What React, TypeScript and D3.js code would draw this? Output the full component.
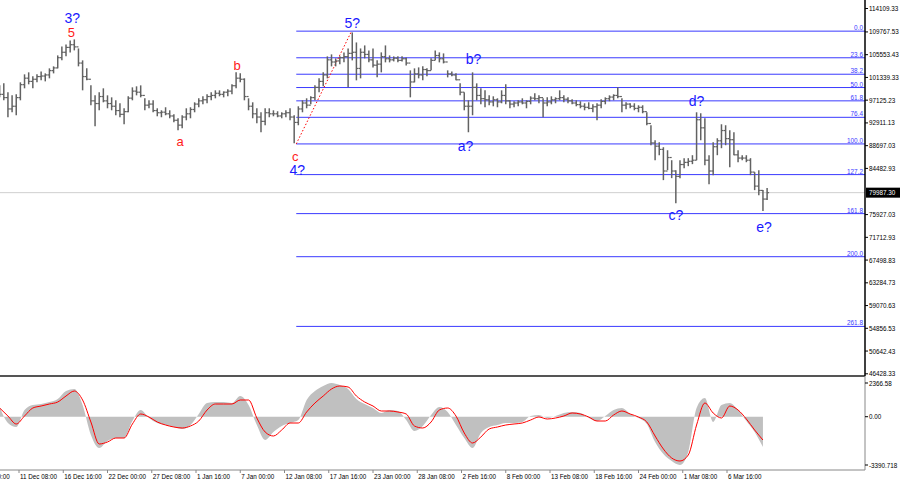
import React from "react";
import * as d3 from "d3";

const W = 900;
const H = 485;

// 12-hour bars starting 9 Dec 2024 00:00 (UTC)
const barStart = Date.UTC(2024, 11, 9, 0);
const barHours = 12;
const firstOpenK = 98.6;
const barHighK = [
  99.87, 100.24, 98.58, 98.02, 98.21, 100.43, 101.91, 102.28, 101.54, 101.91,
  102.46, 102.09, 103.02, 103.39, 105.42, 107.08, 107.45, 108.19, 108.38, 106.71,
  104.5, 103.02, 99.87, 98.02, 98.58, 99.32, 98.02, 97.65, 97.1, 96.55,
  95.62, 97.84, 99.5, 99.69, 99.87, 97.47, 97.1, 97.1, 95.62, 95.25,
  95.81, 95.25, 94.51, 93.77, 94.33, 95.62, 95.81, 96.73, 97.47, 97.84,
  98.21, 98.58, 98.95, 98.95, 98.76, 99.13, 100.06, 102.28, 102.09, 101.17,
  97.47, 96.73, 95.62, 94.88, 95.62, 95.62, 95.25, 95.07, 94.88, 95.25,
  95.62, 94.33, 95.99, 97.1, 97.47, 97.84, 99.87, 101.17, 102.28, 105.24,
  105.61, 104.87, 105.24, 105.98, 106.71, 109.67, 107.82, 106.71, 107.27, 106.35,
  106.71, 104.5, 105.98, 107.27, 105.42, 105.24, 105.24, 105.24, 105.05, 102.65,
  103.02, 103.2, 103.39, 103.02, 104.87, 106.35, 105.98, 105.79, 102.65, 102.46,
  102.09, 100.24, 98.58, 97.1, 102.28, 100.24, 99.32, 98.95, 98.02, 97.84,
  97.47, 98.95, 100.06, 97.1, 96.92, 97.1, 97.47, 97.1, 97.84, 98.39,
  98.02, 97.47, 97.65, 97.84, 97.65, 98.95, 98.02, 97.65, 97.29, 97.1,
  96.92, 96.55, 96.73, 96.36, 96.55, 97.29, 97.65, 98.02, 98.21, 99.5,
  97.47, 96.73, 96.55, 96.55, 96.18, 96.18, 94.88, 92.48, 89.7, 89.33,
  88.41, 87.85, 86.0, 84.16, 86.0, 86.38, 86.38, 86.93, 94.88, 94.7,
  93.77, 86.93, 89.33, 90.07, 92.66, 92.48, 91.55, 91.18, 87.85, 86.93,
  86.93, 86.38, 83.79, 84.16, 80.46, 80.83,
];
const barLowK = [
  97.65, 97.1, 93.96, 94.88, 94.33, 97.1, 99.32, 100.06, 99.32, 100.43,
  100.8, 100.61, 101.17, 102.09, 103.02, 104.5, 105.24, 105.98, 106.35, 103.39,
  98.95, 100.8, 96.18, 92.29, 95.25, 96.73, 95.62, 95.25, 94.33, 93.96,
  92.66, 94.88, 97.1, 98.02, 97.65, 95.25, 95.62, 94.88, 94.14, 93.96,
  94.33, 93.77, 93.03, 91.55, 91.92, 93.4, 93.77, 94.88, 95.81, 96.36,
  96.55, 97.1, 97.47, 97.84, 97.65, 97.84, 98.21, 99.32, 100.43, 97.1,
  95.25, 93.77, 92.85, 91.18, 92.48, 93.96, 94.14, 93.96, 93.77, 93.96,
  93.4, 89.15, 92.48, 94.88, 95.62, 96.36, 97.1, 98.58, 99.69, 101.17,
  103.39, 103.39, 103.76, 104.13, 99.5, 104.5, 100.8, 101.17, 104.87, 104.13,
  103.2, 101.35, 102.28, 104.13, 104.13, 104.31, 104.13, 104.31, 103.57, 97.65,
  100.43, 101.17, 100.8, 101.54, 102.65, 104.5, 104.13, 103.94, 101.35, 101.54,
  100.8, 98.02, 95.25, 91.18, 94.33, 97.1, 96.36, 95.81, 96.18, 95.99,
  95.81, 96.55, 96.36, 95.62, 95.81, 95.99, 96.36, 95.62, 96.36, 97.1,
  96.55, 93.96, 95.99, 96.36, 96.55, 97.1, 96.73, 96.55, 96.36, 95.99,
  95.62, 95.25, 95.44, 94.88, 93.4, 95.62, 96.36, 96.92, 97.1, 97.47,
  94.88, 95.44, 95.62, 95.25, 94.88, 94.7, 92.48, 88.78, 86.0, 86.93,
  82.31, 84.16, 82.68, 78.05, 82.68, 84.53, 84.9, 85.27, 86.0, 89.7,
  85.08, 81.57, 83.23, 86.93, 88.23, 88.78, 84.71, 86.93, 85.63, 86.0,
  85.63, 83.23, 80.46, 79.53, 76.58, 78.61,
];
const barCloseK = [
  98.2, 97.6, 95.5, 96.0, 97.6, 100.0, 101.2, 100.6, 101.0, 101.5,
  101.6, 101.8, 102.6, 103.1, 105.0, 106.0, 106.9, 107.4, 107.0, 104.0,
  101.5, 101.0, 97.0, 96.5, 97.8, 97.0, 96.5, 96.0, 95.2, 94.5,
  95.0, 97.5, 98.8, 98.6, 98.0, 96.2, 96.4, 95.2, 94.8, 94.9,
  94.6, 94.2, 93.4, 92.5, 94.0, 94.6, 95.4, 96.4, 97.0, 97.2,
  97.8, 98.0, 98.4, 98.2, 98.6, 98.8, 99.8, 101.2, 101.0, 97.8,
  96.0, 94.6, 94.0, 93.2, 94.8, 94.6, 94.6, 94.2, 94.6, 94.8,
  94.0, 93.0, 95.5, 96.6, 96.2, 97.6, 99.5, 100.6, 101.8, 104.6,
  104.2, 104.4, 105.0, 105.2, 105.8, 106.0, 103.0, 106.0, 105.6, 104.6,
  103.6, 103.8, 105.2, 104.8, 104.6, 104.9, 104.5, 104.8, 104.0, 100.5,
  102.0, 101.8, 102.8, 102.6, 104.5, 105.4, 104.8, 104.2, 102.0, 101.8,
  100.9, 98.6, 96.0, 96.0, 99.5, 98.0, 97.4, 97.2, 96.8, 97.2,
  96.8, 98.0, 97.0, 96.4, 96.6, 96.8, 96.6, 96.9, 97.5, 97.4,
  97.6, 96.6, 96.8, 97.2, 97.4, 97.6, 97.3, 97.0, 96.6, 96.3,
  96.0, 95.8, 95.6, 95.9, 96.2, 96.9, 97.4, 97.7, 98.0, 97.8,
  96.2, 96.4, 96.0, 95.6, 95.8, 95.0, 92.8, 89.2, 88.6, 88.0,
  84.0, 86.5, 84.0, 83.0, 85.2, 85.6, 85.8, 86.0, 93.5, 92.0,
  86.0, 84.0, 88.5, 89.6, 91.5, 90.0, 89.8, 87.0, 86.4, 86.4,
  86.0, 83.8, 81.2, 80.4, 78.8, 79.99,
];

// MACD sampled every second bar
const macdHist = [
  681, -442, -723, 470, 821, 892, 1032, 1243, 1804, 1945,
  821, -1285, -2197, -1706, -1495, -1495, -302, 470, -91, -442,
  -583, -723, -863, -583, 190, 962, 1032, 1032, 962, 1453,
  821, -583, -1636, -1074, -653, -442, -232, 1172, 1804, 2155,
  2366, 2225, 1945, 1243, 892, 611, 260, 470, 400, -232,
  -1004, -653, 119, 681, 330, -583, -1495, -2197, -1144, -723,
  -583, -442, -442, -372, 49, 119, -91, 49, 260, 330,
  260, -91, -302, 49, 470, 611, 190, -91, -512, -1776,
  -2618, -3110, -3390, -2478, 611, 1313, -372, 821, 962, 470,
  -302, -1074, -2127,
];
const macdSignal = [
  611, 49, -512, 49, 611, 751, 892, 1032, 1453, 1804,
  1172, -372, -1916, -1776, -1495, -1495, -512, 190, -21, -372,
  -583, -723, -793, -653, -302, 470, 892, 892, 892, 1172,
  1172, -91, -1074, -1355, -934, -442, -442, 330, 962, 1453,
  1945, 2155, 2085, 1453, 1032, 751, 400, 400, 330, 190,
  -653, -793, -372, 470, 611, 49, -1144, -1846, -1425, -863,
  -723, -583, -512, -442, -232, -21, -161, -91, 49, 260,
  190, -21, -302, -302, 119, 400, 190, -21, -372, -1355,
  -2267, -2899, -3110, -2689, -583, 962, 260, -91, 751, 470,
  -161, -934, -1636,
];

const priceTicks = [
  114109.33, 109767.53, 105553.43, 101339.33, 97125.23, 92911.13, 88697.03, 84482.93,
  75927.03, 71712.93, 67498.83, 63284.73, 59070.63, 54856.53, 50642.43, 46428.33,
];
const macdTicks = [2366.58, 0, -3390.718];
const macdTickLabels = ["2366.58", "0.00", "-3390.718"];

const dateTicks = [
  Date.UTC(2024, 11, 6, 0), Date.UTC(2024, 11, 11, 8), Date.UTC(2024, 11, 16, 16),
  Date.UTC(2024, 11, 22, 0), Date.UTC(2024, 11, 27, 8), Date.UTC(2025, 0, 1, 16),
  Date.UTC(2025, 0, 7, 0), Date.UTC(2025, 0, 12, 8), Date.UTC(2025, 0, 17, 16),
  Date.UTC(2025, 0, 23, 0), Date.UTC(2025, 0, 28, 8), Date.UTC(2025, 1, 2, 16),
  Date.UTC(2025, 1, 8, 0), Date.UTC(2025, 1, 13, 8), Date.UTC(2025, 1, 18, 16),
  Date.UTC(2025, 1, 24, 0), Date.UTC(2025, 2, 1, 8), Date.UTC(2025, 2, 6, 16),
];
const dateTickLabels = [
  "6 Dec 00:00", "11 Dec 08:00", "16 Dec 16:00", "22 Dec 00:00", "27 Dec 08:00",
  "1 Jan 16:00", "7 Jan 00:00", "12 Jan 08:00", "17 Jan 16:00", "23 Jan 00:00",
  "28 Jan 08:00", "2 Feb 16:00", "8 Feb 00:00", "13 Feb 08:00", "18 Feb 16:00",
  "24 Feb 00:00", "1 Mar 08:00", "6 Mar 16:00",
];

const fibLevels = [0, 23.6, 38.2, 50.0, 61.8, 76.4, 100.0, 127.2, 161.8, 200.0, 261.8];
const fibHigh = 109912;
const fibLow = 89018;
const fibStart = Date.UTC(2025, 0, 13, 18);
const fibPeak = Date.UTC(2025, 0, 20, 10);
const lastPrice = 79987.3;

const BLUE = "#1a1aff";
const RED = "#ff1a1a";
const waveLabels = [
  { text: "3?", bar: 18, at: "high", dx: -2, dy: -21, color: BLUE, size: 14 },
  { text: "5", bar: 18, at: "high", dx: -3, dy: -7, color: RED, size: 13 },
  { text: "a", bar: 43, at: "low", dx: 2, dy: 11, color: RED, size: 13 },
  { text: "b", bar: 57, at: "high", dx: 1, dy: -7, color: RED, size: 13 },
  { text: "c", bar: 71, at: "low", dx: 1, dy: 13, color: RED, size: 13 },
  { text: "4?", bar: 71, at: "low", dx: 3, dy: 27, color: BLUE, size: 14 },
  { text: "5?", bar: 85, at: "high", dx: 0, dy: -9, color: BLUE, size: 14 },
  { text: "a?", bar: 113, at: "low", dx: -3, dy: 14, color: BLUE, size: 14 },
  { text: "b?", bar: 114, at: "high", dx: 1, dy: -13, color: BLUE, size: 14 },
  { text: "c?", bar: 163, at: "low", dx: 0, dy: 12, color: BLUE, size: 14 },
  { text: "d?", bar: 168, at: "high", dx: 0, dy: -11, color: BLUE, size: 14 },
  { text: "e?", bar: 184, at: "low", dx: 1, dy: 16, color: BLUE, size: 14 },
];

const FONT = "'Liberation Sans', Arial, sans-serif";
const AXIS_X = 865;

export default function App() {
  const x = d3
    .scaleUtc()
    .domain([new Date(Date.UTC(2024, 11, 11, 8)), new Date(Date.UTC(2025, 2, 6, 16))])
    .range([19, 727]);
  const y = d3.scaleLinear().domain([46428.33, 114109.33]).range([373.8, 8.5]);
  const my = d3.scaleLinear().domain([-3390.718, 2366.58]).range([465, 383]);

  const barDate = (i: number) => new Date(barStart + i * barHours * 3600e3);
  const bars = barHighK.map((h, i) => ({
    x: x(barDate(i)),
    hi: h * 1000,
    lo: barLowK[i] * 1000,
    open: (i === 0 ? firstOpenK : barCloseK[i - 1]) * 1000,
    close: barCloseK[i] * 1000,
  }));

  const macdPts = macdHist.map((v, k) => ({ x: x(barDate(k * 2)), h: v, s: macdSignal[k] }));
  const histArea = d3
    .area<{ x: number; h: number }>()
    .x((d) => d.x)
    .y0(my(0))
    .y1((d) => my(d.h))
    .curve(d3.curveMonotoneX);
  const sigLine = d3
    .line<{ x: number; s: number }>()
    .x((d) => d.x)
    .y((d) => my(d.s))
    .curve(d3.curveMonotoneX);

  const fibX = x(new Date(fibStart));
  const fibPrice = (lv: number) => fibHigh - (lv / 100) * (fibHigh - fibLow);
  const BAR = "#626262";

  return (
    <svg
      width={W}
      height={H}
      style={{ position: "absolute", left: 0, top: 0, background: "#fff" }}
      fontFamily={FONT}
    >
      <rect x={0} y={0} width={W} height={H} fill="#fff" />
      {/* current price line */}
      <line x1={0} x2={AXIS_X} y1={y(lastPrice)} y2={y(lastPrice)} stroke="#cfcfcf" strokeWidth={1} />

      {/* fibonacci levels */}
      {fibLevels.map((lv) => {
        const yy = y(fibPrice(lv));
        return (
          <g key={lv}>
            <line x1={fibX} x2={AXIS_X} y1={yy} y2={yy} stroke="#3a3aff" strokeWidth={1} />
            <text x={AXIS_X - 2} y={yy - 1} fontSize={6.4} fill="#3a3aff" textAnchor="end">
              {lv.toFixed(1)}
            </text>
          </g>
        );
      })}

      {/* red dotted trend line */}
      <line
        x1={fibX}
        y1={y(fibLow)}
        x2={x(new Date(fibPeak))}
        y2={y(fibHigh)}
        stroke="#ff0000"
        strokeWidth={1}
        strokeDasharray="1.5,2"
      />

      {/* price bars (OHLC) */}
      {bars.map((b, i) => (
        <g key={i} stroke={BAR}>
          <line x1={b.x} x2={b.x} y1={y(b.hi)} y2={y(b.lo)} strokeWidth={1.5} />
          <line x1={b.x - 2} x2={b.x} y1={y(b.open)} y2={y(b.open)} strokeWidth={1.2} />
          <line x1={b.x} x2={b.x + 2} y1={y(b.close)} y2={y(b.close)} strokeWidth={1.2} />
        </g>
      ))}

      {/* wave labels */}
      {waveLabels.map((l, i) => {
        const b = bars[l.bar];
        const base = l.at === "high" ? y(b.hi) : y(b.lo);
        return (
          <text
            key={i}
            x={b.x + l.dx}
            y={base + l.dy}
            fill={l.color}
            fontSize={l.size}
            textAnchor="middle"
            dominantBaseline="central"
          >
            {l.text}
          </text>
        );
      })}

      {/* panel separator */}
      <line x1={0} x2={AXIS_X} y1={376} y2={376} stroke="#555" strokeWidth={2} />

      {/* MACD */}
      <path d={histArea(macdPts) || ""} fill="#c0c0c0" />
      <path d={sigLine(macdPts) || ""} fill="none" stroke="#ff0000" strokeWidth={1} />

      {/* bottom axis */}
      <line x1={0} x2={AXIS_X} y1={470} y2={470} stroke="#888" strokeWidth={1} />
      {dateTicks.map((d, i) => {
        const xx = x(new Date(d));
        return (
          <g key={i}>
            <line x1={xx} x2={xx} y1={470} y2={473} stroke="#888" />
            <text x={xx + 1} y={479} fontSize={6.3} fill="#000">
              {dateTickLabels[i]}
            </text>
          </g>
        );
      })}

      {/* right axis */}
      <line x1={AXIS_X} x2={AXIS_X} y1={0} y2={376} stroke="#000" strokeWidth={1.5} />
      <line x1={AXIS_X} x2={AXIS_X} y1={376} y2={470} stroke="#888" strokeWidth={1} />
      {priceTicks.map((p, i) => (
        <g key={i}>
          <line x1={AXIS_X} x2={AXIS_X + 3} y1={y(p)} y2={y(p)} stroke="#000" />
          <text x={AXIS_X + 4} y={y(p)} fontSize={6.3} fill="#000" dominantBaseline="central">
            {p.toFixed(2)}
          </text>
        </g>
      ))}
      {macdTicks.map((v, i) => (
        <g key={i}>
          <line x1={AXIS_X} x2={AXIS_X + 3} y1={my(v)} y2={my(v)} stroke="#000" />
          <text x={AXIS_X + 4} y={my(v)} fontSize={6.3} fill="#000" dominantBaseline="central">
            {macdTickLabels[i]}
          </text>
        </g>
      ))}

      {/* current price tag */}
      <rect x={AXIS_X + 1} y={y(lastPrice) - 5} width={W - AXIS_X - 1} height={10} fill="#000" />
      <text x={AXIS_X + 4} y={y(lastPrice)} fontSize={6.3} fill="#fff" dominantBaseline="central">
        {lastPrice.toFixed(2)}
      </text>
    </svg>
  );
}
